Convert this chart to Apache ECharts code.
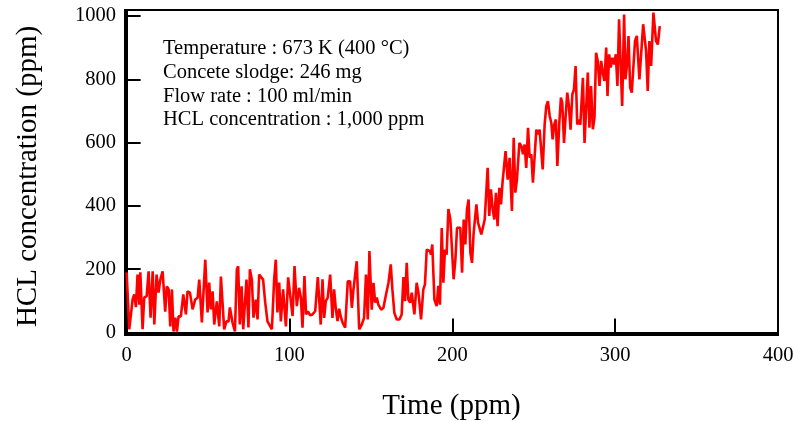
<!DOCTYPE html>
<html>
<head>
<meta charset="utf-8">
<script src="https://cdn.jsdelivr.net/npm/echarts@6/dist/echarts.min.js"></script>
<style>
  html, body { margin: 0; padding: 0; background: #fff; }
  #chart { width: 793px; height: 421px; }
</style>
</head>
<body>
<div id="chart"></div>
<script>
// time values
const times = [
  0.0, 1.6, 3.7, 4.7, 5.7, 6.7, 7.8, 8.4, 9.8, 10.8, 12.3, 13.5, 14.7, 16.0, 17.0, 18.4, 19.6, 20.7, 22.1, 23.7,
  24.7, 25.8, 26.8, 27.8, 28.8, 29.9, 30.9, 31.9, 33.3, 34.8, 35.8, 36.4, 37.4, 38.9, 40.5, 42.1, 43.6, 44.6, 46.2, 48.3,
  49.7, 50.7, 51.7, 52.8, 53.8, 55.4, 56.9, 57.9, 59.9, 61.3, 62.6, 63.4, 65.0, 66.5, 67.7, 68.5, 69.5, 70.6, 71.6, 73.6,
  74.8, 75.7, 76.9, 77.9, 79.3, 80.4, 81.4, 82.4, 83.8, 85.1, 86.5, 87.5, 89.2, 90.6, 91.6, 92.6, 93.7, 94.7, 96.1, 97.8,
  99.2, 100.4, 101.9, 103.1, 104.5, 105.9, 107.0, 108.0, 109.2, 110.2, 111.3, 112.7, 114.1, 115.8, 117.4, 118.2, 119.2, 120.3, 121.3, 122.3,
  123.5, 125.0, 126.4, 127.4, 128.4, 129.5, 130.5, 131.7, 132.7, 134.2, 135.8, 137.2, 138.3, 139.3, 140.3, 141.3, 142.8, 144.4, 145.8, 147.0,
  148.1, 149.1, 150.5, 151.6, 152.6, 153.6, 154.6, 156.3, 157.7, 159.1, 160.8, 162.2, 163.2, 164.4, 165.9, 167.5, 168.9, 170.0, 171.0, 172.0,
  173.0, 174.1, 175.1, 176.1, 176.7, 178.1, 179.2, 180.8, 182.2, 183.2, 184.3, 185.3, 186.3, 186.9, 187.7, 189.0, 190.4, 191.4, 192.4, 193.5,
  194.5, 195.5, 196.5, 197.6, 198.8, 200.8, 201.9, 202.9, 203.9, 204.9, 206.0, 207.0, 208.0, 209.0, 210.0, 211.1, 212.1, 213.1, 214.8, 215.8,
  216.8, 217.8, 218.8, 219.9, 221.7, 222.7, 223.7, 224.8, 225.8, 226.8, 227.8, 228.9, 229.9, 230.9, 231.9, 232.7, 234.0, 235.2, 236.6, 237.7,
  238.7, 239.7, 241.2, 242.4, 243.4, 244.4, 245.4, 246.5, 247.5, 248.5, 249.5, 250.6, 251.6, 252.6, 253.6, 255.5, 256.7, 257.7, 258.7, 259.8,
  260.8, 261.6, 262.6, 263.6, 264.5, 265.7, 266.7, 267.5, 268.6, 269.6, 270.6, 271.6, 272.6, 273.7, 274.7, 275.7, 276.7, 277.6, 278.6, 280.2,
  281.2, 283.2, 284.2, 285.2, 286.3, 287.3, 288.3, 289.3, 290.4, 291.4, 292.4, 293.4, 294.5, 295.3, 296.3, 297.3, 298.3, 299.4, 300.4, 301.4,
  302.4, 303.2, 304.3, 305.5, 306.3, 307.3, 308.2, 309.2, 310.2, 311.2, 312.2, 313.3, 313.9, 314.9, 315.9, 317.2, 319.0, 320.0, 321.0, 322.1,
  323.5, 324.1, 325.1, 326.2, 327.4
];
// HCL concentration (ppm)
const hcl = [
  190, 10, 105, 120, 80, 183, 88, 190, 10, 110, 115, 193, 47, 193, 25, 183, 126, 167, 193, 66,
  146, 136, 19, 136, 3, 47, 3, 51, 51, 120, 120, 57, 130, 126, 73, 104, 110, 167, 32, 230,
  63, 158, 73, 130, 25, 98, 19, 177, 10, 35, 35, 79, 32, 3, 200, 209, 25, 146, 10, 167,
  16, 200, 167, 47, 104, 41, 183, 177, 167, 95, 35, 41, 10, 167, 230, 63, 158, 35, 136, 19,
  174, 175, 52, 210, 83, 141, 110, 15, 178, 57, 67, 54, 57, 67, 175, 178, 25, 168, 46, 99,
  110, 183, 46, 136, 78, 36, 75, 46, 30, 15, 162, 162, 78, 136, 136, 225, 10, 25, 46, 183,
  41, 257, 72, 157, 94, 110, 88, 72, 78, 115, 157, 215, 136, 62, 41, 41, 57, 175, 99, 220,
  104, 94, 126, 126, 57, 157, 126, 41, 136, 152, 262, 257, 257, 246, 278, 104, 83, 147, 88, 330,
  157, 262, 246, 390, 357, 168, 231, 331, 326, 331, 189, 357, 278, 389, 420, 252, 220, 315, 405, 347,
  352, 310, 315, 357, 520, 368, 452, 389, 357, 441, 336, 457, 405, 478, 473, 573, 483, 552, 384, 615,
  442, 484, 599, 589, 563, 594, 520, 647, 552, 563, 473, 473, 641, 626, 641, 515, 657, 715, 731, 684,
  662, 610, 657, 673, 526, 662, 742, 726, 599, 684, 758, 715, 641, 752, 768, 842, 657, 673, 657, 805,
  599, 821, 647, 779, 642, 679, 884, 858, 779, 858, 821, 795, 900, 747, 879, 837, 868, 847, 879, 779,
  990, 874, 716, 1005, 800, 847, 937, 774, 758, 752, 921, 937, 932, 800, 800, 974, 889, 763, 921, 842,
  1011, 1011, 921, 910, 968
];
const xTicks = [0, 100, 200, 300, 400];
const yTicks = [0, 200, 400, 600, 800, 1000];
const noteLines = [
  'Temperature : 673 K (400 °C)',
  'Concete slodge: 246 mg',
  'Flow rate : 100 ml/min',
  'HCL concentration : 1,000 ppm'
];

const FONT = 'Liberation Serif';
const chart = echarts.init(document.getElementById('chart'));

const option = {
  backgroundColor: '#fff',
  animation: false,
  grid: {
    left: 125, right: 15, top: 10, bottom: 86,
    outerBoundsMode: 'none',
    show: true, borderColor: '#000', borderWidth: 2
  },
  xAxis: {
    type: 'value',
    min: -1, max: 400,
    name: 'Time (ppm)',
    nameLocation: 'middle',
    nameGap: 57,
    nameTextStyle: { fontFamily: FONT, fontSize: 29, color: '#000' },
    axisLine: { lineStyle: { color: '#000', width: 2 } },
    axisTick: { inside: true, length: 14, customValues: xTicks, lineStyle: { color: '#000', width: 2 } },
    axisLabel: { customValues: xTicks, margin: 10, fontFamily: FONT, fontSize: 20.5, color: '#000' },
    splitLine: { show: false }
  },
  yAxis: {
    type: 'value',
    min: -8, max: 1019,
    name: 'HCL concentration (ppm)',
    nameLocation: 'middle',
    nameRotate: 90,
    nameGap: 82,
    nameTextStyle: { fontFamily: FONT, fontSize: 29, color: '#000', padding: [0, 8, 0, 0] },
    axisLine: { lineStyle: { color: '#000', width: 2 } },
    axisTick: { inside: true, length: 14, customValues: yTicks, lineStyle: { color: '#000', width: 2 } },
    axisLabel: {
      customValues: yTicks, margin: 9, fontFamily: FONT, fontSize: 20.5, color: '#000',
      formatter: v => String(v)
    },
    splitLine: { show: false }
  },
  graphic: [{
    type: 'text',
    left: 163, top: 37,
    style: {
      text: noteLines.join('\n'),
      font: '20.5px "Liberation Serif"',
      lineHeight: 23.7,
      fill: '#000'
    }
  }],
  series: [{
    type: 'line',
    data: times.map((t, i) => [t, hcl[i]]),
    showSymbol: false,
    lineStyle: { color: '#ff0000', width: 2.6 },
    itemStyle: { color: '#ff0000' }
  }]
};
chart.setOption(option);
</script>
</body>
</html>
